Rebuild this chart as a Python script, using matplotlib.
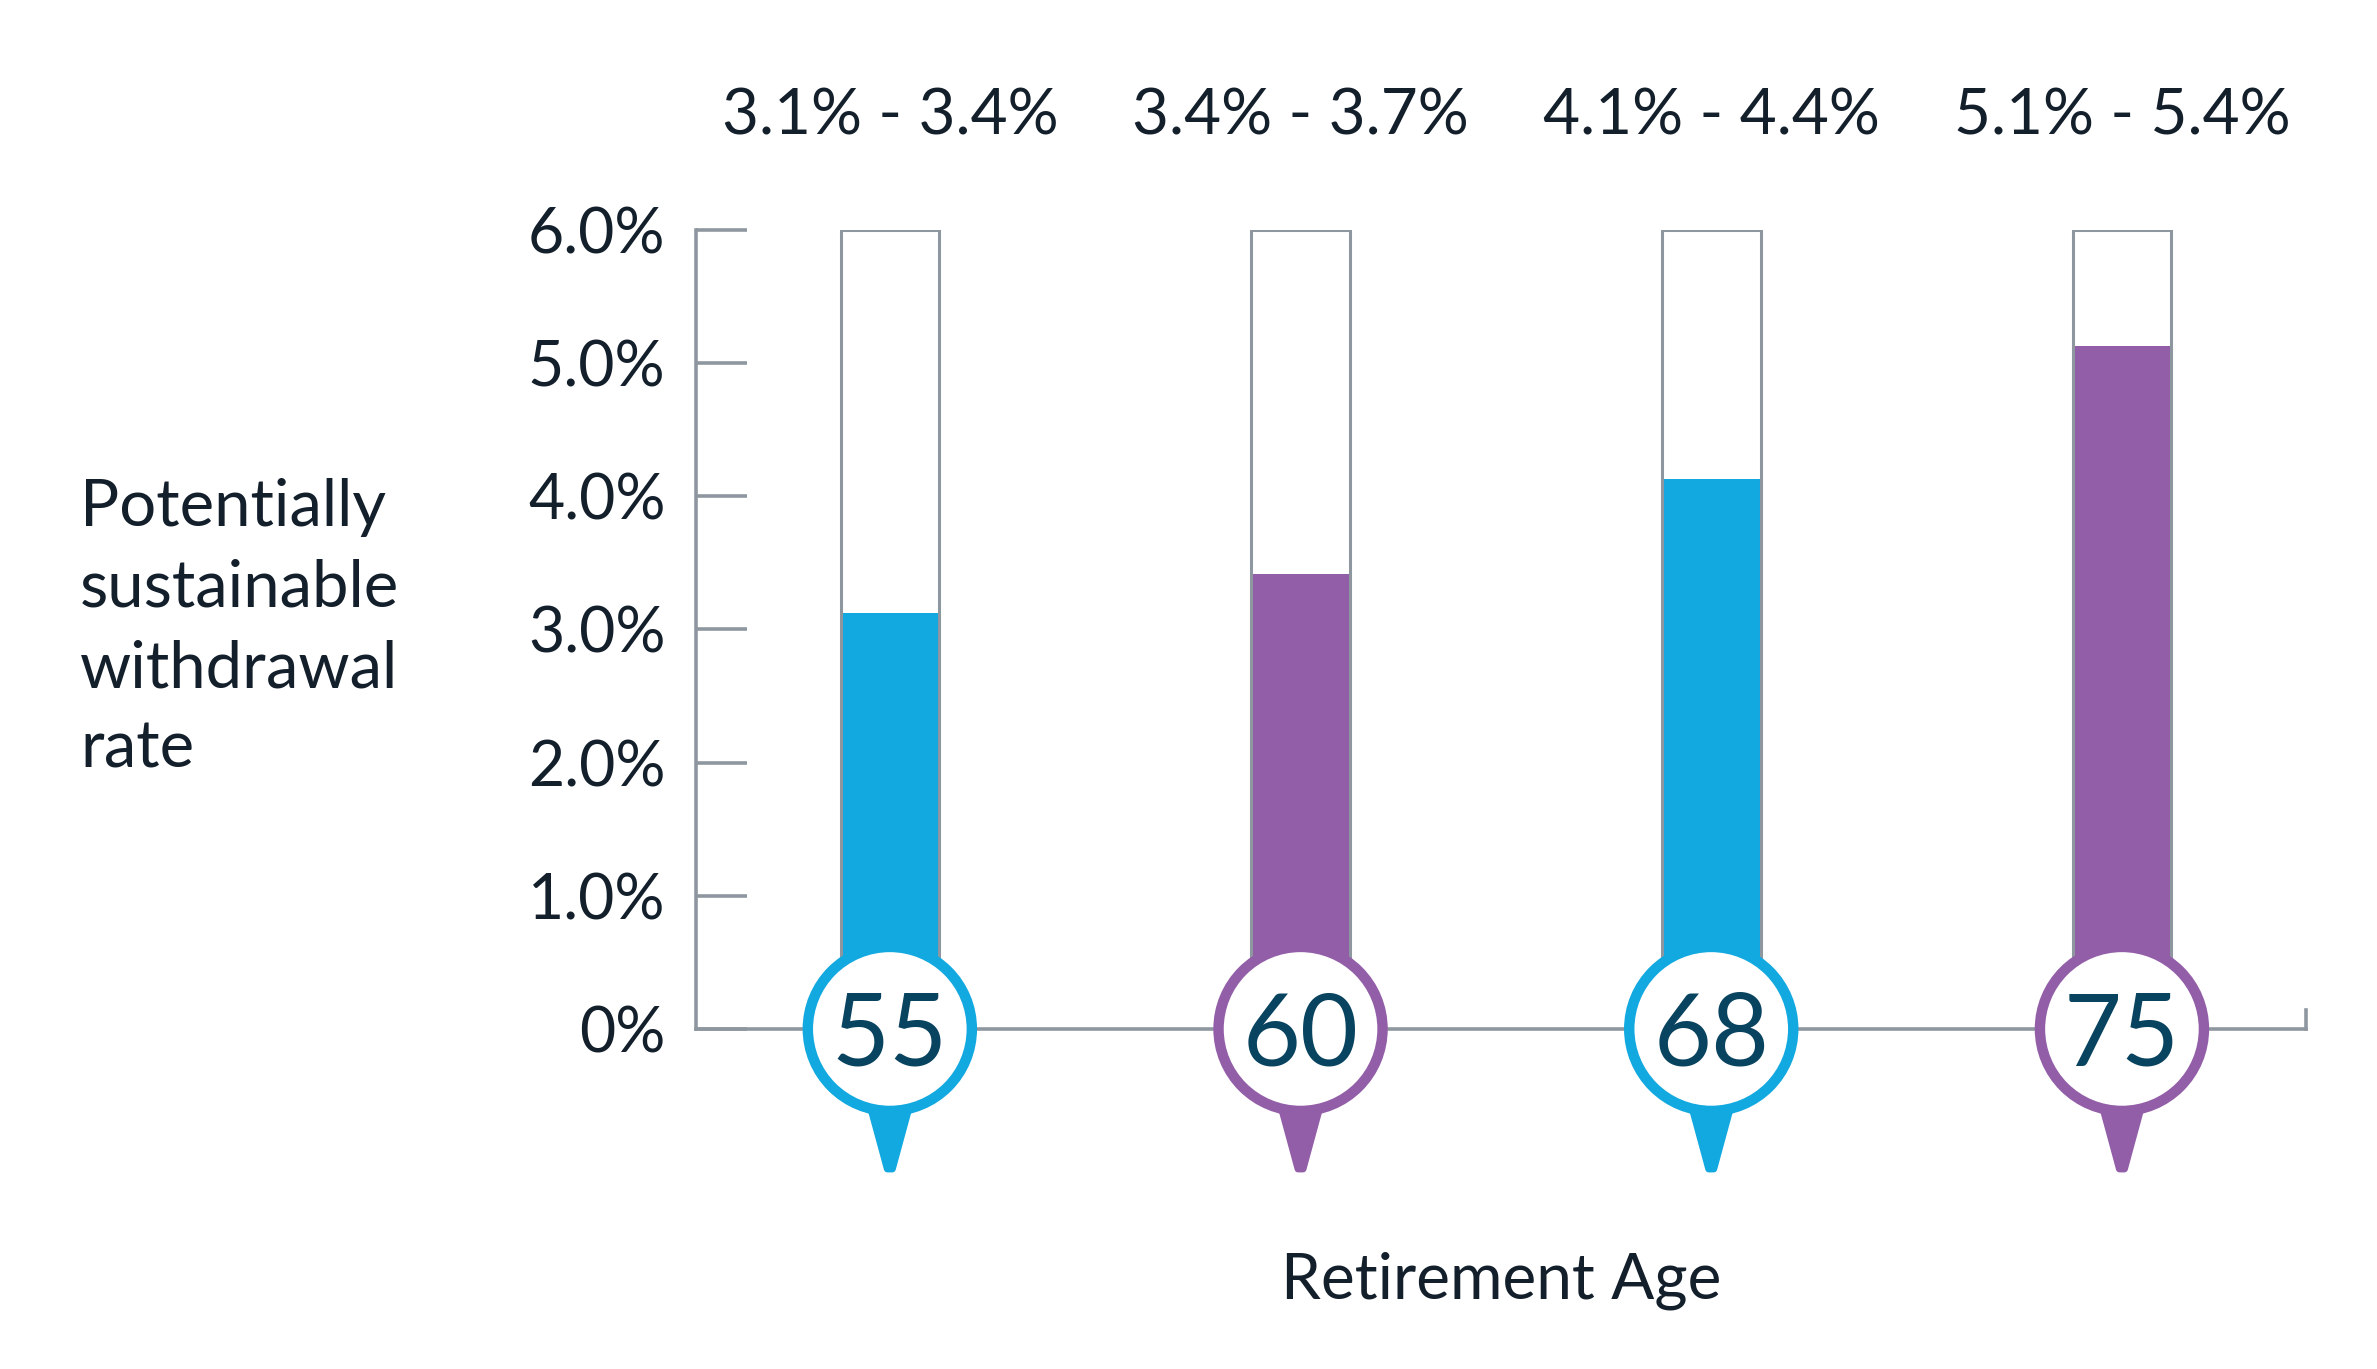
import matplotlib
matplotlib.use("Agg")
import matplotlib.pyplot as plt
import numpy as np
from matplotlib.patches import Circle, Polygon
from matplotlib.transforms import Affine2D, ScaledTranslation

plt.rcParams["font.family"] = ["Lato", "DejaVu Sans"]

# data
ages = ["55", "60", "68", "75"]
rate_low = [3.12, 3.42, 4.13, 5.13]
range_labels = ["3.1% - 3.4%", "3.4% - 3.7%", "4.1% - 4.4%", "5.1% - 5.4%"]
y_ticks = [0, 1, 2, 3, 4, 5, 6]
y_tick_labels = ["0%", "1.0%", "2.0%", "3.0%", "4.0%", "5.0%", "6.0%"]
bar_colors = ["#12a8e0", "#935ea8", "#12a8e0", "#935ea8"]

GREY = "#8e979f"
TEXT = "#131f2b"
NAVY = "#08435f"
Y_MAX = 6.0

fig = plt.figure(figsize=(23.77, 13.69), dpi=100)
ax = fig.add_axes([0.2928, 0.2484, 0.6773, 0.5836])
x = np.arange(len(ages))

ax.bar(x, rate_low, width=0.24, color=bar_colors, zorder=3)
ax.bar(x, [Y_MAX] * len(x), width=0.24, facecolor="none", edgecolor=GREY,
       linewidth=2.2, zorder=4)

ax.set_xlim(-0.472, 3.448)
ax.set_ylim(0, Y_MAX)
ax.set_yticks(y_ticks)
ax.set_yticklabels(y_tick_labels)
ax.set_xticks([])
for s in ["top", "right"]:
    ax.spines[s].set_visible(False)
for s in ["left", "bottom"]:
    ax.spines[s].set_color(GREY)
    ax.spines[s].set_linewidth(2.6)
ax.tick_params(axis="y", direction="in", length=37, width=2.6, color=GREY,
               labelsize=45, labelcolor=TEXT, pad=22)
# small end tick at right end of x axis
ax.plot([3.448, 3.448], [0, 0.14], color=GREY, lw=2.6, clip_on=False, zorder=2)

# pins (shape in pixels, positioned at data coords)
for i, (age, c) in enumerate(zip(ages, bar_colors)):
    tr = Affine2D() + ScaledTranslation(i, 0, ax.transData)
    tail = Polygon([(-21, -72), (21, -72), (2.5, -140), (-2.5, -140)], closed=True,
                   facecolor=c, edgecolor=c, lw=5, joinstyle="round",
                   transform=tr, clip_on=False, zorder=6)
    ax.add_patch(tail)
    circ = Circle((0, 0), 82, facecolor="white", edgecolor=c, lw=7.5,
                  transform=tr, clip_on=False, zorder=7)
    ax.add_patch(circ)
    ax.text(i, 0, age, ha="center", va="center_baseline", fontsize=72,
            color=NAVY, zorder=8)
    ax.text(i, 6.85, range_labels[i], ha="center", va="center", fontsize=46,
            color=TEXT)

fig.text(0.0337, 0.541, "Potentially\nsustainable\nwithdrawal\nrate",
         ha="left", va="center", fontsize=47, color=TEXT, linespacing=1.45)
fig.text(0.6315, 0.0645, "Retirement Age", ha="center", va="center",
         fontsize=46, color=TEXT)

fig.savefig("out.png", dpi=100, facecolor="white")
